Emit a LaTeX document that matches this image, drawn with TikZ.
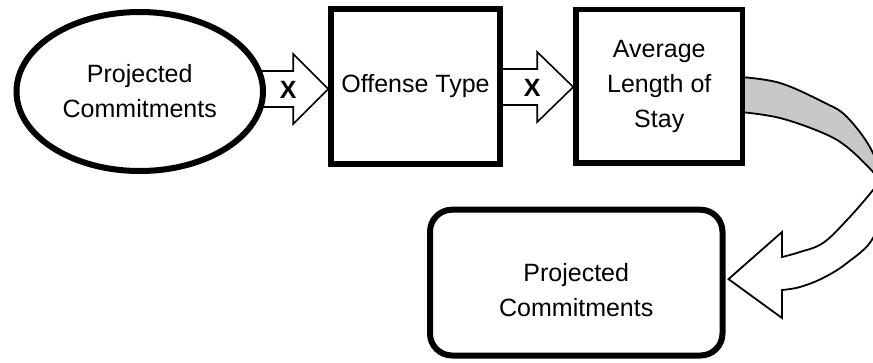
\documentclass[tikz,border=0pt]{standalone}
\usepackage{fontspec}
\setmainfont{Liberation Sans}
\usetikzlibrary{calc,shapes.geometric}
\pgfdeclarelayer{background}
\pgfsetlayers{background,main}

\tikzset{
  boxline/.style={draw=black, line width=5.5pt, fill=white, inner sep=0pt},
  labeltext/.style={font=\fontsize{25}{35}\selectfont, align=center},
  crosslabel/.style={font=\fontsize{25}{30}\selectfont\bfseries, inner sep=0pt},
  blockarrow/.style={draw=black, line width=1.6pt, fill=white, line join=miter},
  bandshade/.style={fill={rgb,255:red,200;green,200;blue,200}},
}

% straight block arrow: tail, tip (same height), head length
\newcommand\fatconnector[3]{%
  \draw[blockarrow] ($(#1)+(0,-18)$) -- ($(#2)+(-#3,-18)$) -- ($(#2)+(-#3,-35)$) -- (#2)
    -- ($(#2)+(-#3,35)$) -- ($(#2)+(-#3,18)$) -- ($(#1)+(0,18)$);
}

\begin{document}
\begin{tikzpicture}[x=1pt,y=-1pt]
\useasboundingbox (0,0) rectangle (873,362);
\clip (0,0) rectangle (873,362);

% nodes
\node[boxline, ellipse, line width=6pt, minimum width=246.5, minimum height=159, labeltext]
  (oval) at (139.75,91.5) {Projected\\Commitments};
\node[boxline, rectangle, minimum width=169, minimum height=155, labeltext]
  (offense) at (415.5,86.5) {Offense Type};
\node[boxline, rectangle, minimum width=166.5, minimum height=153.5, labeltext]
  (avg) at (659.25,86.25) {Average\\Length of\\Stay};
\node[boxline, rectangle, rounded corners=22pt, line width=6pt, minimum width=292.5, minimum height=145.8]
  (rbox) at (576.25,282.6) {};
\node[labeltext] (rboxtext) at ($(rbox.center)+(0,7)$) {Projected\\Commitments};

% connector end points
\coordinate (a1) at ($(oval.east)+(-8,-2.5)$);
\coordinate (a1t) at (offense.west |- a1);
\coordinate (a2) at ($(offense.east)+(-6,0.5)$);
\coordinate (a2t) at (avg.west |- a2);
\coordinate (ctip) at ($(rbox.east)+(3,-3.5)$);

\begin{pgfonlayer}{background}
  \fatconnector{a1}{a1t}{35}
  \fatconnector{a2}{a2t}{36}

  % curved band from the stay box back to the lower box
  \path[save path=\curvedband]
    plot[smooth, tension=0.6] coordinates {(741,77) (780,83) (823,102) (847,117) (873,153)
      (884,195) (873,238) (847,263) (823,278) (800,287) (782,290)}
    -- (782,318) -- (ctip) -- (782,232) -- (782,257)
    -- plot[smooth, tension=0.6] coordinates {(782,257) (800,252) (823,243) (847,220) (873,190)
      (877,181) (873,172) (847,147) (823,133) (780,118) (741,112)}
    -- cycle;
  \begin{scope}
    \clip (0,0) rectangle (873,362);
    \fill[white, use path=\curvedband];
    \begin{scope}
      \clip (700,0) rectangle (900,181);
      \fill[bandshade, use path=\curvedband];
    \end{scope}
    \draw[black, line width=1.8pt, line join=miter, use path=\curvedband];
  \end{scope}
\end{pgfonlayer}

% labels on the straight arrows
\node[crosslabel] (x1) at ($(a1t)+(-40,1)$) {X};
\node[crosslabel] (x2) at ($(a2t)+(-41,1)$) {X};
\end{tikzpicture}
\end{document}
